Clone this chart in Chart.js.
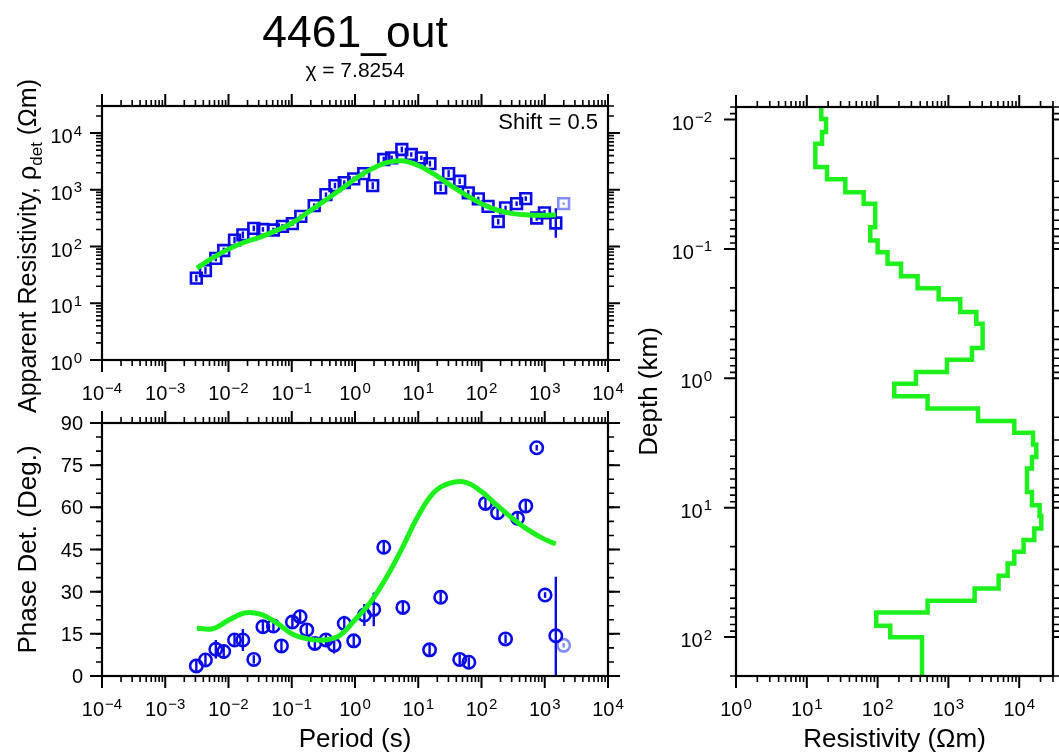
<!DOCTYPE html>
<html>
<head>
<meta charset="utf-8">
<title>4461_out</title>
<script src="https://cdn.jsdelivr.net/npm/chart.js@4.4.0/dist/chart.umd.min.js"></script>
<style>
  body { margin: 0; background: #fff; }
  #wrap { position: relative; width: 1059px; height: 753px; overflow: hidden; background: #fff; }
  #wrap canvas { position: absolute; left: 0; top: 0; }
</style>
</head>
<body>
<div id="wrap">
  <canvas id="rhoChart" width="1059" height="753"></canvas>
  <canvas id="phaseChart" width="1059" height="753"></canvas>
  <canvas id="modelChart" width="1059" height="753"></canvas>
</div>
<script>
// observed apparent resistivity (Ohm m) and its error in decades
const rhoPeriods = [0.0031, 0.00432, 0.0063, 0.0084, 0.01245, 0.01687, 0.0251, 0.035, 0.0513, 0.0713,
  0.1023, 0.139, 0.2265, 0.347, 0.482, 0.676, 0.955, 1.374, 1.905, 2.85, 3.80, 5.50, 7.76, 11.2, 15.3,
  22.6, 30.2, 45.2, 61.7, 89.1, 127, 184, 240, 359, 501, 746, 989, 1496];
const rhoValues = [27.8, 37.8, 61.7, 85.3, 130, 161, 209, 200, 196, 226, 253, 340, 526, 822, 1186, 1340,
  1560, 1932, 1186, 3420, 3660, 5130, 4190, 3660, 2900, 1080, 1932, 1413, 881, 690, 511, 274, 479, 570,
  700, 319, 391, 260];
const rhoErrors = [0.06, 0.06, 0.05, 0.05, 0.06, 0.06, 0.05, 0.04, 0.04, 0.04, 0.04, 0.04, 0.04, 0.04,
  0.05, 0.04, 0.04, 0.05, 0.06, 0.05, 0.04, 0.05, 0.04, 0.04, 0.05, 0.06, 0.06, 0.05, 0.05, 0.04, 0.04,
  0.05, 0.04, 0.04, 0.04, 0.05, 0.05, 0.26];

// observed phase (deg) and its error
const phasePeriods = [0.0031, 0.00432, 0.0063, 0.0084, 0.01245, 0.01687, 0.0251, 0.035, 0.0513, 0.0687,
  0.1023, 0.1355, 0.173, 0.232, 0.347, 0.468, 0.676, 0.955, 1.406, 1.98, 2.85, 5.71, 15.1, 22.6, 45.2,
  63.1, 115.6, 179.5, 240, 371.5, 501, 746, 1012, 1496];
const phaseValues = [3.6, 5.7, 9.5, 8.7, 12.8, 12.8, 5.9, 17.5, 17.8, 10.7, 19.2, 21.1, 16.4, 11.6, 12.8,
  11.0, 18.7, 12.5, 21.7, 23.7, 45.8, 24.4, 9.3, 28.0, 5.9, 4.9, 61.4, 58.1, 13.2, 56.1, 60.5, 81.2,
  28.8, 14.3];
const phaseErrors = [2.5, 2.2, 3.3, 2.5, 2.5, 3.9, 1.5, 2.2, 2.2, 2.2, 2.5, 2.5, 1.8, 2.0, 2.5, 3.0, 2.7,
  2.2, 3.9, 6.0, 2.0, 2.0, 2.0, 1.8, 1.8, 1.8, 2.0, 2.0, 1.6, 2.2, 2.0, 1.0, 1.0, 21];

// masked (not inverted) sample
const maskedPeriods = [1990];
const maskedRho = [570];
const maskedPhase = [10.9];

// forward response of the final model
const fitPeriods = [0.00316, 0.00562, 0.01, 0.0178, 0.0316, 0.0562, 0.1, 0.178, 0.316, 0.562, 1, 1.78,
  3.16, 5.62, 10, 17.8, 31.6, 56.2, 100, 178, 316, 562, 1000, 1496];
const fitRho = [41.7, 63, 90, 119, 146, 190, 257, 398, 619, 971, 1550, 2290, 3010, 3240, 2680, 1888,
  1222, 816, 570, 437, 380, 360, 355, 363];
const fitPhase = [17.0, 16.8, 19.8, 22.4, 22.0, 19.1, 15.0, 13.2, 12.8, 14.3, 20.0, 26.4, 35.2, 45.7,
  57.0, 65.4, 68.6, 68.9, 65.6, 60.6, 55.9, 51.8, 48.6, 47.0];

// layered model: top of each layer (km) and its resistivity (Ohm m)
const layerTops = [0.008, 0.0099, 0.0125, 0.0154, 0.0233, 0.029, 0.0364, 0.0448, 0.0679, 0.086, 0.106,
  0.13, 0.163, 0.201, 0.245, 0.308, 0.378, 0.584, 0.718, 0.894, 1.10, 1.377, 1.715, 2.14, 2.63, 3.25,
  4.05, 4.98, 7.55, 9.57, 11.6, 14.5, 17.8, 21.9, 27.0, 33.6, 42.1, 52.5, 64.5, 81.8, 100.5];
const layerRho = [16.0, 18.7, 16.4, 13.2, 19.3, 35, 63.5, 92.6, 78.8, 100, 138, 214, 367, 728, 1472,
  2478, 3040, 2150, 955, 348, 172, 508, 2620, 8530, 15660, 17430, 15140, 12880, 15140, 19400, 20500,
  16340, 11530, 8530, 6860, 5120, 2345, 508, 95.7, 151, 424];

const periodTicks = [1e-4, 1e-3, 1e-2, 1e-1, 1, 10, 100, 1e3, 1e4];
const rhoTicks = [1, 10, 100, 1e3, 1e4];
const phaseTicks = [0, 15, 30, 45, 60, 75, 90];
const depthTicks = [0.01, 0.1, 1, 10, 100];
const modelRhoTicks = [1, 10, 100, 1e3, 1e4];

const BLUE = '#0a0ae8';
const BLUE_LIGHT = 'rgba(30,50,235,0.55)';
const GREEN = '#1ef01e';
const FONT = '"Liberation Sans", Arial, Helvetica, sans-serif';

const pts = (xs, ys) => xs.map((x, i) => ({ x, y: ys[i] }));

function logMinor(min, max) {
  const out = [];
  for (let e = Math.floor(Math.log10(min)); e <= Math.ceil(Math.log10(max)); e++) {
    for (let m = 2; m <= 9; m++) {
      const v = m * Math.pow(10, e);
      if (v >= min * 0.999 && v <= max * 1.001) out.push(v);
    }
  }
  return out;
}

function linMinor(min, max, step) {
  const out = [];
  for (let v = min; v <= max + 1e-9; v += step) out.push(v);
  return out;
}

// "10" with a raised exponent
function drawPow(ctx, v, x, base, align) {
  const e = Math.round(Math.log10(v));
  const exp = (e < 0 ? '\u2212' : '') + Math.abs(e);
  ctx.font = '20px ' + FONT;
  const wb = ctx.measureText('10').width;
  ctx.font = '15px ' + FONT;
  const we = ctx.measureText(exp).width;
  const w = wb + 1 + we;
  const x0 = align === 'center' ? x - w / 2 : x - w;
  ctx.textAlign = 'left';
  ctx.textBaseline = 'alphabetic';
  ctx.font = '20px ' + FONT;
  ctx.fillText('10', x0, base);
  ctx.font = '15px ' + FONT;
  ctx.fillText(exp, x0 + wb + 1, base - 7.5);
}

// text built from plain and subscript pieces, centred on (x, base)
function drawRich(ctx, parts, x, base, size, rotate) {
  const sub = size * 0.68;
  let w = 0;
  parts.forEach(p => {
    ctx.font = (p[1] ? sub : size) + 'px ' + FONT;
    w += ctx.measureText(p[0]).width;
  });
  ctx.save();
  ctx.translate(x, base);
  if (rotate) ctx.rotate(-Math.PI / 2);
  ctx.textAlign = 'left';
  ctx.textBaseline = 'alphabetic';
  let cx = -w / 2;
  parts.forEach(p => {
    ctx.font = (p[1] ? sub : size) + 'px ' + FONT;
    ctx.fillText(p[0], cx, p[1] ? size * 0.22 : 0);
    cx += ctx.measureText(p[0]).width;
  });
  ctx.restore();
}

function errorBars(id, sets, log) {
  return {
    id: id,
    beforeDatasetsDraw(chart) {
      const { ctx, chartArea: a, scales: { x, y } } = chart;
      ctx.save();
      ctx.beginPath();
      ctx.rect(a.left, a.top, a.right - a.left, a.bottom - a.top);
      ctx.clip();
      ctx.lineWidth = 2.4;
      sets.forEach(s => {
        ctx.strokeStyle = s.color;
        s.xs.forEach((xv, i) => {
          const v = s.ys[i], e = s.errs[i];
          const lo = log ? v / Math.pow(10, e) : v - e;
          const hi = log ? v * Math.pow(10, e) : v + e;
          const px = x.getPixelForValue(xv);
          ctx.beginPath();
          ctx.moveTo(px, y.getPixelForValue(lo));
          ctx.lineTo(px, y.getPixelForValue(hi));
          ctx.stroke();
        });
      });
      ctx.restore();
    }
  };
}

// plain frame with outward ticks on all four sides
function frame(id, cfg) {
  return {
    id: id,
    afterDraw(chart) {
      const { ctx, chartArea: a, scales: { x, y } } = chart;
      ctx.save();
      ctx.strokeStyle = '#000';
      ctx.fillStyle = '#000';
      const xTicks = (vals, len, lw) => {
        ctx.lineWidth = lw;
        vals.forEach(v => {
          const px = x.getPixelForValue(v);
          ctx.beginPath();
          ctx.moveTo(px, a.top); ctx.lineTo(px, a.top - len);
          ctx.moveTo(px, a.bottom); ctx.lineTo(px, a.bottom + len);
          ctx.stroke();
        });
      };
      const yTicks = (vals, len, lw) => {
        ctx.lineWidth = lw;
        vals.forEach(v => {
          const py = y.getPixelForValue(v);
          ctx.beginPath();
          ctx.moveTo(a.left, py); ctx.lineTo(a.left - len, py);
          ctx.moveTo(a.right, py); ctx.lineTo(a.right + len, py);
          ctx.stroke();
        });
      };
      xTicks(cfg.xMinor, 6, 1.6);
      xTicks(cfg.xMajor, 12, 2);
      yTicks(cfg.yMinor, 6, 1.6);
      yTicks(cfg.yMajor, 12, 2);
      ctx.lineWidth = 2.2;
      ctx.strokeRect(a.left, a.top, a.right - a.left, a.bottom - a.top);

      cfg.xMajor.forEach(v => drawPow(ctx, v, x.getPixelForValue(v), a.bottom + 40, 'center'));
      cfg.yMajor.forEach(v => {
        const py = y.getPixelForValue(v);
        if (cfg.yLog) {
          drawPow(ctx, v, a.left - cfg.yGap, py + 10, 'right');
        } else {
          ctx.font = '20px ' + FONT;
          ctx.textAlign = 'right';
          ctx.textBaseline = 'alphabetic';
          ctx.fillText(String(v), a.left - cfg.yGap, py + 7);
        }
      });
      if (cfg.extra) cfg.extra(ctx, a);
      ctx.restore();
    }
  };
}

const common = {
  responsive: false,
  animation: false,
  devicePixelRatio: 1,
  events: [],
  plugins: { legend: { display: false }, tooltip: { enabled: false }, title: { display: false } }
};

const symbol = (style, radius, color) => ({
  pointStyle: style, pointRadius: radius, pointBorderWidth: 2.6,
  pointBorderColor: color, pointBackgroundColor: 'rgba(0,0,0,0)', showLine: false, order: 2
});

// apparent resistivity vs period
new Chart(document.getElementById('rhoChart'), {
  type: 'scatter',
  data: {
    datasets: [
      { data: pts(fitPeriods, fitRho), showLine: true, borderColor: GREEN, borderWidth: 5,
        pointRadius: 0, tension: 0.4, order: 1 },
      Object.assign({ data: pts(rhoPeriods, rhoValues) }, symbol('rect', 7.6, BLUE)),
      Object.assign({ data: pts(maskedPeriods, maskedRho) }, symbol('rect', 7.6, BLUE_LIGHT))
    ]
  },
  options: Object.assign({}, common, {
    layout: { padding: { left: 102, top: 106, right: 451, bottom: 393 } },
    scales: {
      x: { type: 'logarithmic', min: 1e-4, max: 1e4, display: false },
      y: { type: 'logarithmic', min: 1, max: 3e4, display: false }
    }
  }),
  plugins: [
    errorBars('rhoErr', [
      { xs: rhoPeriods, ys: rhoValues, errs: rhoErrors, color: BLUE },
      { xs: maskedPeriods, ys: maskedRho, errs: [0.02], color: BLUE_LIGHT }
    ], true),
    frame('rhoFrame', {
      xMajor: periodTicks, xMinor: logMinor(1e-4, 1e4),
      yMajor: rhoTicks, yMinor: logMinor(1, 3e4), yLog: true, yGap: 20,
      extra(ctx, a) {
        ctx.textAlign = 'center';
        ctx.textBaseline = 'alphabetic';
        ctx.font = '44.5px ' + FONT;
        ctx.fillText('4461_out', (a.left + a.right) / 2, 47);
        ctx.font = '21px ' + FONT;
        ctx.fillText('\u03c7 = 7.8254', (a.left + a.right) / 2, 77);
        ctx.textAlign = 'right';
        ctx.font = '22px ' + FONT;
        ctx.fillText('Shift = 0.5', a.right - 10, 129);
        drawRich(ctx, [['Apparent Resistivity, \u03c1', 0], ['det', 1], [' (\u03a9m)', 0]],
          36, 246, 25, true);
      }
    })
  ]
});

// phase vs period
new Chart(document.getElementById('phaseChart'), {
  type: 'scatter',
  data: {
    datasets: [
      { data: pts(fitPeriods, fitPhase), showLine: true, borderColor: GREEN, borderWidth: 5,
        pointRadius: 0, tension: 0.4, order: 1 },
      Object.assign({ data: pts(phasePeriods, phaseValues) }, symbol('circle', 6.2, BLUE)),
      Object.assign({ data: pts(maskedPeriods, maskedPhase) }, symbol('circle', 6.2, BLUE_LIGHT))
    ]
  },
  options: Object.assign({}, common, {
    layout: { padding: { left: 102, top: 423, right: 451, bottom: 77 } },
    scales: {
      x: { type: 'logarithmic', min: 1e-4, max: 1e4, display: false },
      y: { type: 'linear', min: 0, max: 90, display: false }
    }
  }),
  plugins: [
    errorBars('phaseErr', [
      { xs: phasePeriods, ys: phaseValues, errs: phaseErrors, color: BLUE },
      { xs: maskedPeriods, ys: maskedPhase, errs: [0.8], color: BLUE_LIGHT }
    ], false),
    frame('phaseFrame', {
      xMajor: periodTicks, xMinor: logMinor(1e-4, 1e4),
      yMajor: phaseTicks, yMinor: linMinor(0, 90, 5), yLog: false, yGap: 19,
      extra(ctx, a) {
        drawRich(ctx, [['Phase Det. (Deg.)', 0]], 36, (a.top + a.bottom) / 2, 26, true);
        drawRich(ctx, [['Period (s)', 0]], (a.left + a.right) / 2, 747, 26, false);
      }
    })
  ]
});

// layered resistivity model vs depth
const layerSteps = pts(layerRho, layerTops).concat([{ x: layerRho[layerRho.length - 1], y: 200 }]);

new Chart(document.getElementById('modelChart'), {
  type: 'scatter',
  data: {
    datasets: [
      { data: layerSteps, showLine: true, stepped: 'after', borderColor: GREEN, borderWidth: 4.5,
        borderJoinStyle: 'miter', pointRadius: 0 }
    ]
  },
  options: Object.assign({}, common, {
    layout: { padding: { left: 736, top: 107, right: 6, bottom: 77 } },
    scales: {
      x: { type: 'logarithmic', min: 1, max: 3e4, display: false },
      y: { type: 'logarithmic', min: 0.008, max: 200, reverse: true, display: false }
    }
  }),
  plugins: [
    frame('modelFrame', {
      xMajor: modelRhoTicks, xMinor: logMinor(1, 3e4),
      yMajor: depthTicks, yMinor: logMinor(0.008, 200), yLog: true, yGap: 24,
      extra(ctx, a) {
        drawRich(ctx, [['Depth (km)', 0]], 657, (a.top + a.bottom) / 2, 26, true);
        drawRich(ctx, [['Resistivity (\u03a9m)', 0]], (a.left + a.right) / 2, 747, 26, false);
      }
    })
  ]
});
</script>
</body>
</html>
